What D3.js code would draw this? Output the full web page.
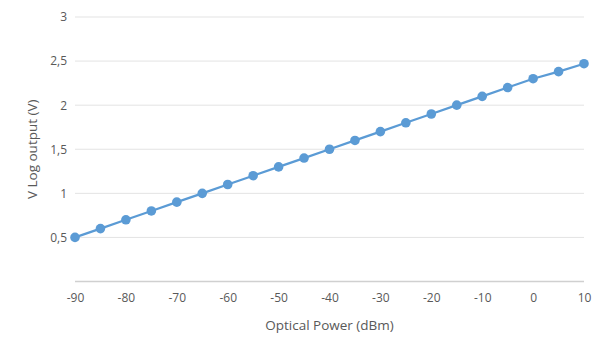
<!DOCTYPE html>
<html>
<head>
<meta charset="utf-8">
<script src="https://cdn.jsdelivr.net/npm/d3@7"></script>
<style>
  body { margin: 0; background: #fff; }
  text { font-family: "Open Sans", Lato, sans-serif; fill: #595959; }
</style>
</head>
<body>
<div id="wrapper"></div>
<script>
const powerDbm = [-90, -85, -80, -75, -70, -65, -60, -55, -50, -45, -40, -35, -30, -25, -20, -15, -10, -5, 0, 5, 10]
const vLog = [0.5, 0.6, 0.7, 0.8, 0.9, 1.0, 1.1, 1.2, 1.3, 1.4, 1.5, 1.6, 1.7, 1.8, 1.9, 2.0, 2.1, 2.2, 2.3, 2.38, 2.47]
const xTicks = [-90, -80, -70, -60, -50, -40, -30, -20, -10, 0, 10]
const yTicks = [0, 0.5, 1, 1.5, 2, 2.5, 3]

const dataset = powerDbm.map((p, i) => ({ p: p, v: vLog[i] }))

const dms = {
  width: 611,
  height: 354,
  margin: { top: 17, right: 27, bottom: 72.5, left: 75 },
}
dms.boundedWidth = dms.width - dms.margin.left - dms.margin.right
dms.boundedHeight = dms.height - dms.margin.top - dms.margin.bottom

const svg = d3.select("#wrapper")
  .append("svg")
  .attr("width", dms.width)
  .attr("height", dms.height)

const bounds = svg.append("g")
  .attr("transform", `translate(${dms.margin.left},${dms.margin.top})`)

const xScale = d3.scaleLinear()
  .domain([-90, 10])
  .range([0, dms.boundedWidth])

const yScale = d3.scaleLinear()
  .domain([0, 3])
  .range([dms.boundedHeight, 0])

// gridlines
bounds.append("g")
  .selectAll("line")
  .data(yTicks)
  .join("line")
    .attr("x1", 0)
    .attr("x2", dms.boundedWidth)
    .attr("y1", d => yScale(d))
    .attr("y2", d => yScale(d))
    .attr("stroke", d => d === 0 ? "#d0d0d0" : "#e3e3e3")
    .attr("stroke-width", d => d === 0 ? 1.3 : 1)

// y labels (no label at 0)
const yAxis = d3.axisLeft(yScale)
  .tickValues(yTicks.filter(d => d > 0))
  .tickSize(0)
  .tickPadding(8)
  .tickFormat(d => String(d).replace(".", ","))
bounds.append("g")
  .call(yAxis)
  .call(g => g.select(".domain").remove())
  .selectAll("text")
    .attr("font-size", 12)
    .style("fill", "#595959")

// x labels, plain hyphen minus like the original
const xAxis = d3.axisBottom(xScale)
  .tickValues(xTicks)
  .tickSize(0)
  .tickPadding(12)
  .tickFormat(d => String(d))
bounds.append("g")
  .attr("transform", `translate(0,${dms.boundedHeight})`)
  .call(xAxis)
  .call(g => g.select(".domain").remove())
  .selectAll("text")
    .attr("font-size", 12)
    .style("fill", "#595959")

// line + markers
const lineGen = d3.line()
  .x(d => xScale(d.p))
  .y(d => yScale(d.v))

bounds.append("path")
  .datum(dataset)
  .attr("d", lineGen)
  .attr("fill", "none")
  .attr("stroke", "#5b9bd5")
  .attr("stroke-width", 2.25)

bounds.append("g")
  .selectAll("circle")
  .data(dataset)
  .join("circle")
    .attr("cx", d => xScale(d.p))
    .attr("cy", d => yScale(d.v))
    .attr("r", 4.8)
    .attr("fill", "#5b9bd5")

// axis titles
svg.append("text")
  .attr("x", dms.margin.left + dms.boundedWidth / 2)
  .attr("y", 330)
  .attr("text-anchor", "middle")
  .attr("font-size", 13.5)
  .text("Optical Power (dBm)")

svg.append("text")
  .attr("transform", `translate(37,${dms.margin.top + dms.boundedHeight / 2}) rotate(-90)`)
  .attr("text-anchor", "middle")
  .attr("font-size", 13.5)
  .text("V Log output (V)")
</script>
</body>
</html>
